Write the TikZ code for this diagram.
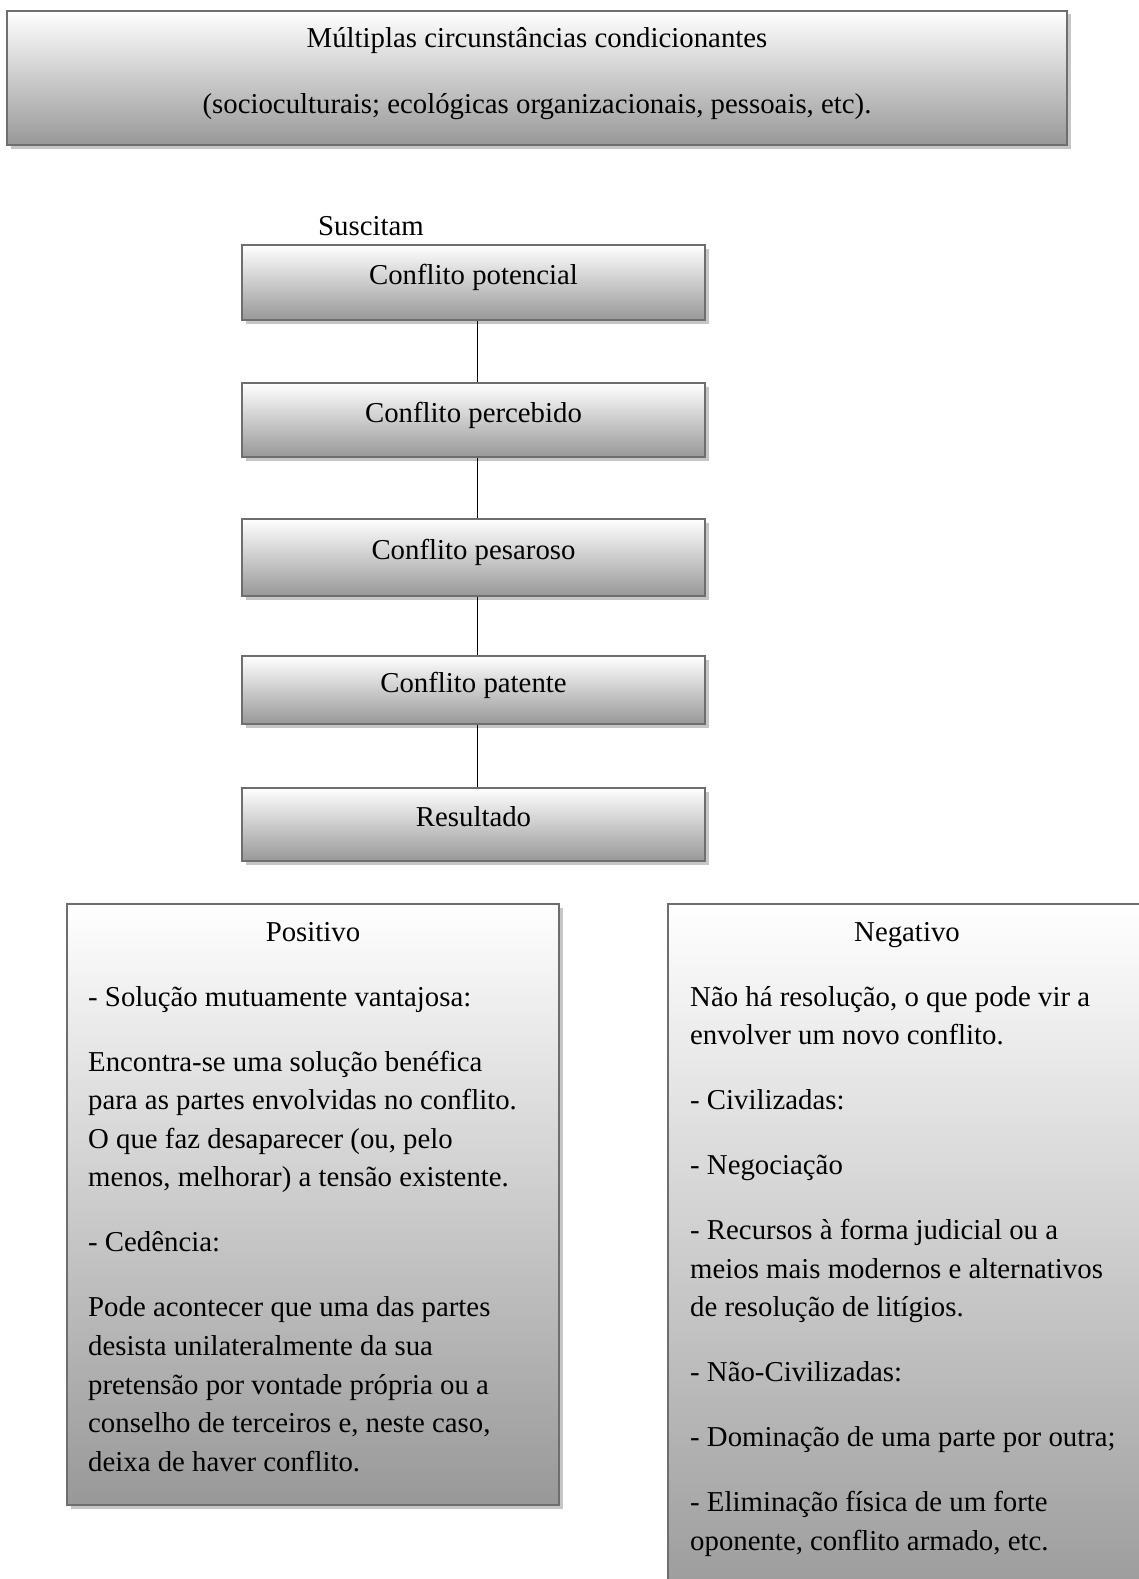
\documentclass[tikz,border=0pt]{standalone}
\usepackage{fontspec}
\setmainfont{Liberation Serif}
\usetikzlibrary{shadows}
\definecolor{edgegray}{HTML}{6E6E6E}
\definecolor{shadegray}{HTML}{C6C6C6}
\definecolor{lowgray}{HTML}{989898}
\begin{document}
\begin{tikzpicture}[x=1pt,y=-1pt,
  panel/.style={rectangle, draw=edgegray, line width=2pt,
    top color=white, bottom color=lowgray, inner sep=0pt,
    drop shadow={shadow xshift=3.5pt, shadow yshift=-3.5pt, opacity=1, fill=shadegray}},
  stage/.style={panel, minimum width=463pt, text height=20pt, text depth=15.5pt},
  txt/.style={inner sep=0pt, font=\fontsize{28.8}{38.6}\selectfont},
  body/.style={txt, anchor=base west, text width=460pt, align=flush left},
  link/.style={draw=black, line width=1.6pt}
]
\useasboundingbox (0,0) rectangle (1139,1579);
\clip (0,0) rectangle (1139,1579);

% conditioning circumstances
\node[panel, minimum width=1060pt, minimum height=134pt] (top) at (537,78) {};
\node[txt, anchor=base] (topa) at (537,48) {Múltiplas circunstâncias condicionantes};
\node[txt, anchor=base] (topb) at (537,113) {(socioculturais; ecológicas organizacionais, pessoais, etc).};

\node[txt, anchor=base west] (susc) at (318,235) {Suscitam};

% stages of the conflict
\node[stage, txt, minimum height=75pt] (s1) at (473.5,282.5) {Conflito potencial};
\node[stage, txt, minimum height=74pt] (s2) at (473.5,420) {Conflito percebido};
\node[stage, txt, minimum height=77pt] (s3) at (473.5,557.5) {Conflito pesaroso};
\node[stage, txt, minimum height=68pt] (s4) at (473.5,690) {Conflito patente};
\node[stage, txt, minimum height=73pt] (s5) at (473.5,824.5) {Resultado};

\draw[link] ([xshift=4pt]s1.south) -- ([xshift=4pt]s2.north);
\draw[link] ([xshift=4pt]s2.south) -- ([xshift=4pt]s3.north);
\draw[link] ([xshift=4pt]s3.south) -- ([xshift=4pt]s4.north);
\draw[link] ([xshift=4pt]s4.south) -- ([xshift=4pt]s5.north);

% positive outcome
\node[panel, minimum width=492pt, minimum height=601pt] (pos) at (313,1204.5) {};
\node[txt, anchor=base] (post) at (313,941) {Positivo};
\node[body] (posb) at (88,1006) {%
- Solução mutuamente vantajosa:\\[26.4pt]
Encontra-se uma solução benéfica\\
para as partes envolvidas no conflito.\\
O que faz desaparecer (ou, pelo\\
menos, melhorar) a tensão existente.\\[26.4pt]
- Cedência:\\[26.4pt]
Pode acontecer que uma das partes\\
desista unilateralmente da sua\\
pretensão por vontade própria ou a\\
conselho de terceiros e, neste caso,\\
deixa de haver conflito.};

% negative outcome
\node[panel, minimum width=478pt, minimum height=716pt] (neg) at (907,1262) {};
\node[txt, anchor=base] (negt) at (907,941) {Negativo};
\node[body] (negb) at (690,1006) {%
Não há resolução, o que pode vir a\\
envolver um novo conflito.\\[26.4pt]
- Civilizadas:\\[26.4pt]
- Negociação\\[26.4pt]
- Recursos à forma judicial ou a\\
meios mais modernos e alternativos\\
de resolução de litígios.\\[26.4pt]
- Não-Civilizadas:\\[26.4pt]
- Dominação de uma parte por outra;\\[26.4pt]
- Eliminação física de um forte\\
oponente, conflito armado, etc.};
\end{tikzpicture}
\end{document}
